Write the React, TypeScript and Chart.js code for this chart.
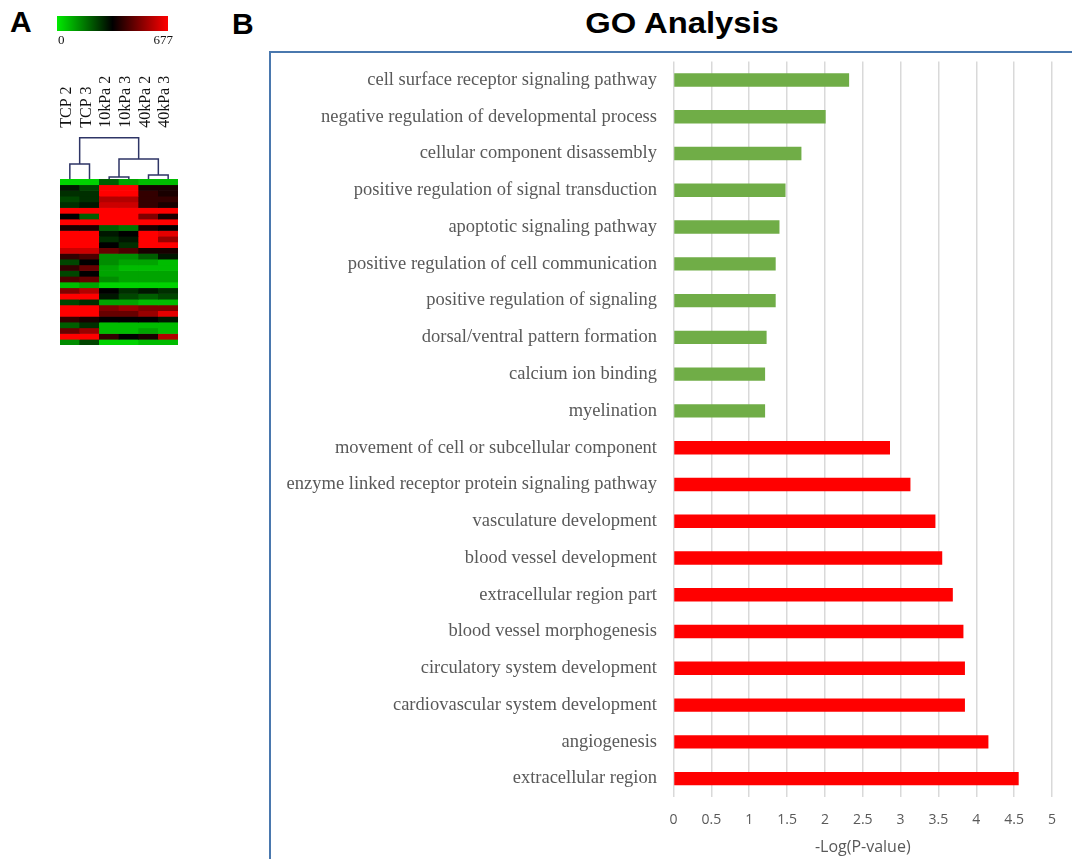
import React, { useEffect, useRef } from "react";
import { Chart, registerables } from "chart.js";

Chart.register(...registerables);

// ---------- Panel B data ----------
const goTerms = [
  "cell surface receptor signaling pathway",
  "negative regulation of developmental process",
  "cellular component disassembly",
  "positive regulation of signal transduction",
  "apoptotic signaling pathway",
  "positive regulation of cell communication",
  "positive regulation of signaling",
  "dorsal/ventral pattern formation",
  "calcium ion binding",
  "myelination",
  "movement of cell or subcellular component",
  "enzyme linked receptor protein signaling pathway",
  "vasculature development",
  "blood vessel development",
  "extracellular region part",
  "blood vessel morphogenesis",
  "circulatory system development",
  "cardiovascular system development",
  "angiogenesis",
  "extracellular region",
];
const goValues = [
  2.32, 2.01, 1.69, 1.48, 1.4, 1.35, 1.35, 1.23, 1.21, 1.21,
  2.86, 3.13, 3.46, 3.55, 3.69, 3.83, 3.85, 3.85, 4.16, 4.56,
];
const goGroups = [
  "down", "down", "down", "down", "down", "down", "down", "down", "down", "down",
  "up", "up", "up", "up", "up", "up", "up", "up", "up", "up",
];
const groupColors: Record<string, string> = { down: "#70AD47", up: "#FF0000" };
const xAxisMin = 0;
const xAxisMax = 5;
const xAxisStep = 0.5;
const xAxisTitle = "-Log(P-value)";

// ---------- Panel A data ----------
const heatmapSamples = ["TCP 2", "TCP 3", "10kPa 2", "10kPa 3", "40kPa 2", "40kPa 3"];
const colorbarRange = [0, 677];
const heatmapRows = [
  [34, 34, 203, 102, 68, 68],
  [305, 237, 677, 677, 372, 372],
  [271, 271, 677, 677, 406, 372],
  [237, 271, 575, 575, 406, 406],
  [271, 305, 609, 609, 406, 372],
  [677, 677, 677, 677, 677, 677],
  [339, 203, 677, 677, 508, 372],
  [677, 677, 677, 677, 677, 677],
  [372, 372, 203, 169, 372, 339],
  [677, 677, 305, 339, 677, 643],
  [677, 677, 271, 305, 677, 542],
  [677, 677, 339, 271, 677, 677],
  [609, 609, 474, 440, 372, 372],
  [406, 440, 135, 135, 203, 305],
  [237, 339, 135, 102, 102, 68],
  [406, 474, 102, 68, 68, 68],
  [237, 339, 102, 102, 102, 102],
  [440, 474, 135, 102, 102, 102],
  [68, 102, 34, 34, 34, 34],
  [508, 575, 339, 271, 305, 271],
  [677, 677, 305, 237, 203, 237],
  [237, 271, 102, 102, 68, 68],
  [677, 677, 508, 542, 508, 508],
  [677, 677, 474, 474, 542, 643],
  [406, 372, 339, 339, 339, 305],
  [203, 271, 68, 68, 68, 68],
  [474, 542, 68, 68, 102, 68],
  [677, 677, 406, 339, 372, 575],
  [135, 237, 34, 34, 68, 68],
];
// merges: child node a, child node b, merge height (in heatmap-row units)
const dendrogramA = [2, 4, 0, 6, 8];
const dendrogramB = [3, 5, 1, 7, 9];
const dendrogramHeights = [0.35, 0.7, 2.6, 3.5, 7.2];

function heatColor(v: number): string {
  const t = Math.max(0, Math.min(1, (v - colorbarRange[0]) / (colorbarRange[1] - colorbarRange[0])));
  if (t < 0.5) {
    const g = Math.round(235 * (1 - 2 * t));
    return `rgb(0,${g},0)`;
  }
  const r = Math.round(255 * (2 * t - 1));
  return `rgb(${r},0,0)`;
}

const heatmapDecor = {
  id: "heatmapDecor",
  afterDraw(chart: any) {
    const ctx = chart.ctx as CanvasRenderingContext2D;
    const xs = chart.scales.x;
    const ys = chart.scales.y;
    ctx.save();
    // dendrogram
    const nodeX: number[] = heatmapSamples.map((_, i) => xs.getPixelForValue(i));
    const nodeH: number[] = heatmapSamples.map(() => 0);
    ctx.strokeStyle = "#2E3566";
    ctx.lineWidth = 1.5;
    dendrogramHeights.forEach((h, k) => {
      const a = dendrogramA[k];
      const b = dendrogramB[k];
      const yTop = ys.getPixelForValue(-h);
      ctx.beginPath();
      ctx.moveTo(nodeX[a], ys.getPixelForValue(-nodeH[a]));
      ctx.lineTo(nodeX[a], yTop);
      ctx.lineTo(nodeX[b], yTop);
      ctx.lineTo(nodeX[b], ys.getPixelForValue(-nodeH[b]));
      ctx.stroke();
      nodeX.push((nodeX[a] + nodeX[b]) / 2);
      nodeH.push(h);
    });
    // sample labels
    const rootY = ys.getPixelForValue(-Math.max(...dendrogramHeights));
    ctx.fillStyle = "#111";
    ctx.font = "16px 'Liberation Serif'";
    ctx.textAlign = "left";
    ctx.textBaseline = "alphabetic";
    heatmapSamples.forEach((s, i) => {
      ctx.save();
      ctx.translate(xs.getPixelForValue(i) + 1, rootY - 10);
      ctx.rotate(-Math.PI / 2);
      ctx.fillText(s, 0, 0);
      ctx.restore();
    });
    // colour bar
    const cbL = 57, cbT = 16, cbW = 111, cbH = 15;
    const grad = ctx.createLinearGradient(cbL, 0, cbL + cbW, 0);
    const lo = colorbarRange[0], hi = colorbarRange[1];
    [0, 0.25, 0.5, 0.75, 1].forEach((f) => grad.addColorStop(f, heatColor(lo + f * (hi - lo))));
    ctx.fillStyle = grad;
    ctx.fillRect(cbL, cbT, cbW, cbH);
    ctx.fillStyle = "#111";
    ctx.font = "13px 'Liberation Serif'";
    ctx.textBaseline = "top";
    ctx.textAlign = "left";
    ctx.fillText(String(lo), cbL + 1, cbT + cbH + 3);
    ctx.textAlign = "right";
    ctx.fillText(String(hi), cbL + cbW + 5, cbT + cbH + 3);
    ctx.restore();
  },
};

function Heatmap() {
  const ref = useRef<HTMLCanvasElement>(null);
  useEffect(() => {
    if (!ref.current) return;
    const chart = new Chart(ref.current, {
      type: "bar",
      data: {
        labels: heatmapSamples,
        datasets: heatmapRows.map((row, r) => ({
          data: row.map(() => [r, r + 1]) as any,
          backgroundColor: row.map((v) => heatColor(v)),
          borderWidth: 0,
          barPercentage: 1,
          categoryPercentage: 1,
          grouped: false,
        })),
      },
      options: {
        responsive: false,
        maintainAspectRatio: false,
        animation: false,
        layout: { padding: { left: 60, right: 72, top: 179, bottom: 15 } },
        plugins: { legend: { display: false }, tooltip: { enabled: false } },
        scales: {
          x: { display: false },
          y: { display: false, type: "linear", reverse: true, min: 0, max: heatmapRows.length },
        },
      },
      plugins: [heatmapDecor],
    });
    return () => chart.destroy();
  }, []);
  return (
    <canvas ref={ref} width={250} height={360} style={{ position: "absolute", left: 0, top: 0 }} />
  );
}

function GoBars() {
  const ref = useRef<HTMLCanvasElement>(null);
  useEffect(() => {
    if (!ref.current) return;
    const chart = new Chart(ref.current, {
      type: "bar",
      data: {
        labels: goTerms,
        datasets: [
          {
            data: goValues,
            backgroundColor: goGroups.map((g) => groupColors[g]),
            borderWidth: 0,
            barPercentage: 0.364,
            categoryPercentage: 1,
          },
        ],
      },
      options: {
        indexAxis: "y",
        responsive: false,
        maintainAspectRatio: false,
        animation: false,
        layout: { padding: { top: 0, right: 20, bottom: 0, left: 0 } },
        plugins: { legend: { display: false }, tooltip: { enabled: false } },
        scales: {
          x: {
            type: "linear",
            min: xAxisMin,
            max: xAxisMax,
            ticks: {
              stepSize: xAxisStep,
              color: "#595959",
              font: { family: "'Open Sans'", size: 14 },
              padding: 15,
              callback: (v: any) => String(Number(v)),
            },
            grid: { color: "#D9D9D9", lineWidth: 1.5, drawTicks: false },
            border: { display: false },
            title: {
              display: true,
              text: xAxisTitle,
              color: "#595959",
              font: { family: "'Open Sans'", size: 16 },
              padding: { top: 0, bottom: 2 },
            },
            afterFit: (s: any) => {
              s.height = 62;
            },
          },
          y: {
            ticks: {
              autoSkip: false,
              color: "#595959",
              font: { family: "'Liberation Serif'", size: 18.5 },
              padding: 16.5,
            },
            grid: { display: false, drawTicks: false },
            border: { display: false },
            afterFit: (s: any) => {
              s.width = 401.5;
            },
          },
        },
      },
    });
    return () => chart.destroy();
  }, []);
  return (
    <canvas ref={ref} width={800} height={825} style={{ position: "absolute", left: 272, top: 34 }} />
  );
}

export default function App() {
  const letter: React.CSSProperties = {
    position: "absolute",
    fontFamily: "'Liberation Sans', Arial, sans-serif",
    fontWeight: 700,
    fontSize: 30,
    lineHeight: "30px",
    color: "#000",
    margin: 0,
  };
  return (
    <div
      style={{
        position: "fixed",
        left: 0,
        top: 0,
        width: 1072,
        height: 859,
        background: "#fff",
        overflow: "hidden",
      }}
    >
      <div style={{ ...letter, left: 10, top: 7 }}>A</div>
      <div style={{ ...letter, left: 232, top: 9 }}>B</div>
      <div
        style={{
          ...letter,
          fontSize: 29,
          lineHeight: "29px",
          left: 532,
          top: 9,
          width: 300,
          textAlign: "center",
          transform: "scaleX(1.13)",
        }}
      >
        GO Analysis
      </div>
      <div
        style={{
          position: "absolute",
          left: 269,
          top: 51,
          width: 900,
          height: 900,
          borderLeft: "2px solid #4A78AE",
          borderTop: "2px solid #4A78AE",
          boxSizing: "border-box",
        }}
      />
      <Heatmap />
      <GoBars />
    </div>
  );
}
